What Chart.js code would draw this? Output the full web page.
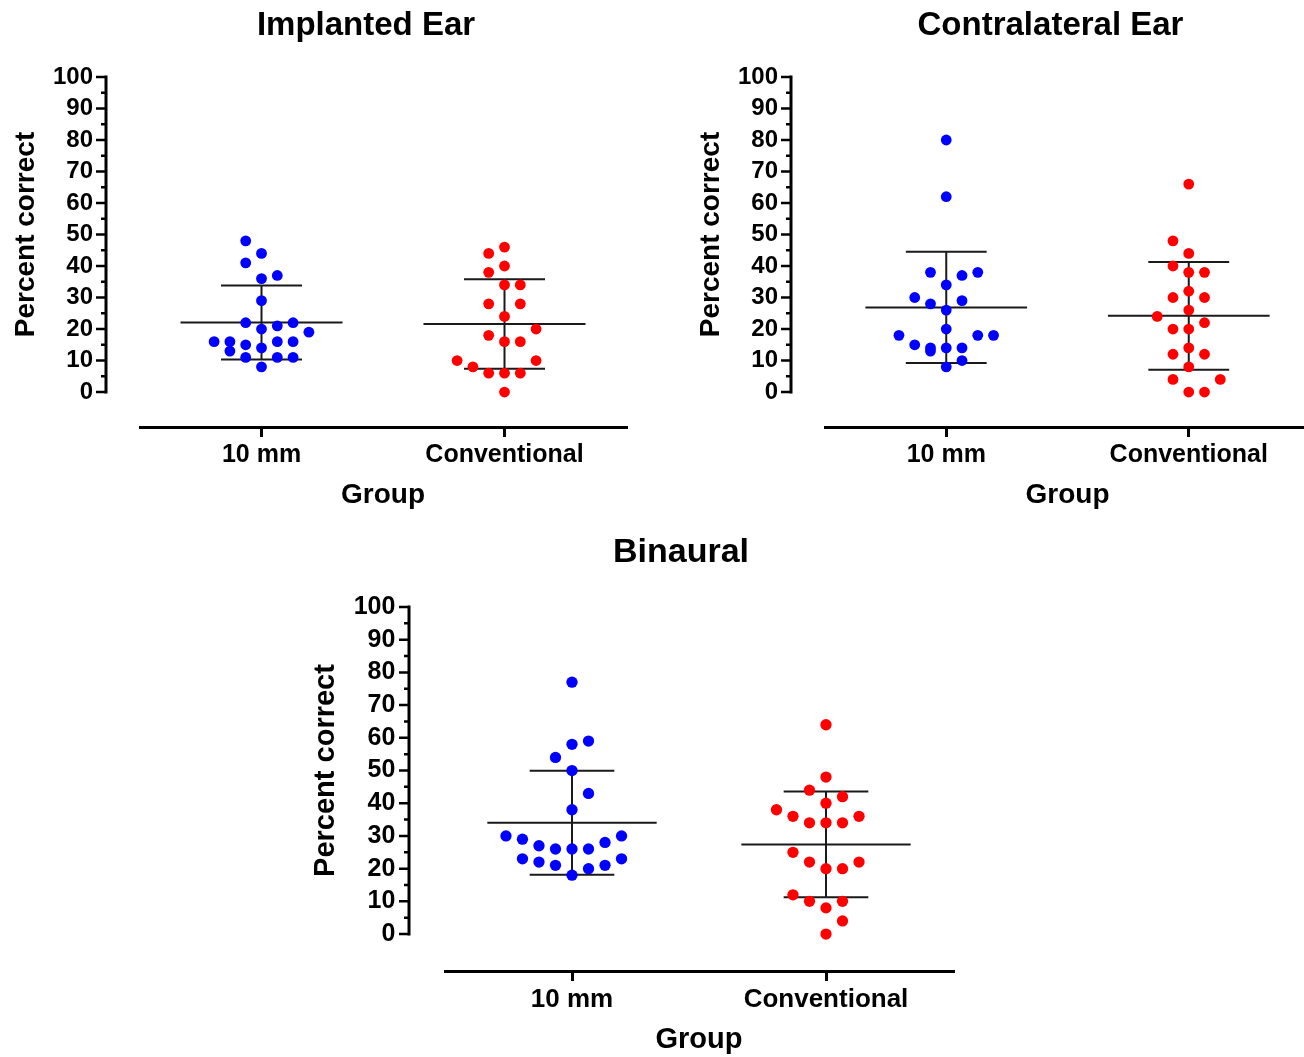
<!DOCTYPE html>
<html>
<head>
<meta charset="utf-8">
<title>Percent correct by group</title>
<script src="https://cdn.jsdelivr.net/npm/chart.js@4.4.1/dist/chart.umd.min.js"></script>
<style>
html, body { margin: 0; padding: 0; background: #fff; overflow: hidden; width: 1304px; height: 1057px; }
canvas { position: absolute; }
</style>
</head>
<body>
<canvas id="implanted"></canvas>
<canvas id="contralateral"></canvas>
<canvas id="binaural"></canvas>
<script>
const groups = ["10 mm", "Conventional"];
const yTicks = [0, 10, 20, 30, 40, 50, 60, 70, 80, 90, 100];

// percent correct per subject
const implanted10mm = [48, 44, 41, 37, 36, 29, 22, 22, 21, 20, 19, 16, 16, 16, 16, 15, 14, 13, 11, 11, 11, 8];
const implantedConv = [46, 44, 40, 38, 34, 34, 28, 28, 24, 20, 18, 16, 16, 10, 10, 8, 6, 6, 6, 0];
const contra10mm = [80, 62, 38, 38, 37, 34, 30, 29, 28, 26, 20, 18, 18, 18, 15, 14, 14, 14, 13, 10, 8];
const contraConv = [66, 48, 44, 40, 38, 38, 32, 30, 30, 26, 24, 22, 20, 20, 14, 12, 12, 8, 4, 4, 0, 0];
const binaural10mm = [77, 59, 58, 54, 50, 43, 38, 30, 30, 29, 28, 27, 26, 26, 26, 23, 23, 22, 21, 21, 20, 18];
const binauralConv = [64, 48, 44, 42, 40, 38, 36, 36, 34, 34, 34, 25, 22, 22, 20, 20, 12, 10, 10, 8, 4, 0];

const SLOT = 0.065;    // side step between dots in a row (group units)
const ROW_SPAN = 5.5;  // values within this of a row's first value share the row

Chart.defaults.font.family = "'Liberation Sans', Arial, sans-serif";
Chart.defaults.color = "#000";

// Prism-like dot spreading: dots in a row go 0, +1, -1, +2, -2 ... (side flips every row)
function swarm(values, center) {
    const sorted = [...values].sort((a, b) => a - b);
    const pts = [];
    let rowStart = null, row = -1, k = 0;
    sorted.forEach(v => {
        if (rowStart === null || v - rowStart > ROW_SPAN) {
            rowStart = v;
            row++;
            k = 0;
        }
        const dir = row % 2 === 0 ? 1 : -1;
        const slot = k === 0 ? 0 : (k % 2 === 1 ? 1 : -1) * Math.ceil(k / 2) * dir;
        pts.push({ x: center + slot * SLOT, y: v });
        k++;
    });
    return pts;
}

function meanSd(values) {
    const m = values.reduce((s, v) => s + v, 0) / values.length;
    const ss = values.reduce((s, v) => s + (v - m) * (v - m), 0);
    return [m, Math.sqrt(ss / (values.length - 1))];
}

// mean line + SD whisker with caps, segments split by null
function errorBars(values, c) {
    const [m, sd] = meanSd(values);
    return [
        { x: c - 1 / 3, y: m }, { x: c + 1 / 3, y: m }, { x: c, y: null },
        { x: c - 1 / 6, y: m + sd }, { x: c + 1 / 6, y: m + sd }, { x: c, y: null },
        { x: c, y: m + sd }, { x: c, y: m - sd }, { x: c, y: null },
        { x: c - 1 / 6, y: m - sd }, { x: c + 1 / 6, y: m - sd }
    ];
}

// detached y axis, y title and panel title
const prismAxis = {
    id: "prismAxis",
    afterDraw(chart, args, o) {
        const { ctx, chartArea: a, scales: { y } } = chart;
        const ax = a.left - o.gap;
        const lo = yTicks[0], hi = yTicks[yTicks.length - 1];
        ctx.save();
        ctx.strokeStyle = "#000";
        ctx.lineWidth = 3;
        ctx.beginPath();
        ctx.moveTo(ax, y.getPixelForValue(lo) + 1.5);
        ctx.lineTo(ax, y.getPixelForValue(hi) - 1.5);
        ctx.stroke();
        ctx.lineWidth = 2.5;
        ctx.beginPath();
        yTicks.forEach((v, i) => {
            const py = y.getPixelForValue(v);
            ctx.moveTo(ax, py);
            ctx.lineTo(ax - 10, py);
            if (i > 0) {
                const pm = y.getPixelForValue((v + yTicks[i - 1]) / 2);
                ctx.moveTo(ax, pm);
                ctx.lineTo(ax - 5, pm);
            }
        });
        ctx.stroke();

        ctx.fillStyle = "#000";
        ctx.textAlign = "center";
        ctx.textBaseline = "alphabetic";
        ctx.font = "bold " + o.yTitleSize + "px 'Liberation Sans', Arial, sans-serif";
        ctx.translate(ax - o.yTitleOffset, (y.getPixelForValue(lo) + y.getPixelForValue(hi)) / 2);
        ctx.rotate(-Math.PI / 2);
        ctx.fillText(o.yTitle, 0, 0);
        ctx.setTransform(1, 0, 0, 1, 0, 0);

        ctx.textBaseline = "middle";
        ctx.font = "bold " + o.titleSize + "px 'Liberation Sans', Arial, sans-serif";
        ctx.fillText(o.title, (ax + a.right) / 2, o.titleY);
        ctx.restore();
    }
};

function drawPanel(id, title, series, box, area, yMin, s) {
    const canvas = document.getElementById(id);
    canvas.width = box.w;
    canvas.height = box.h;
    canvas.style.left = box.x + "px";
    canvas.style.top = box.y + "px";

    const colors = ["#0000ff", "#ff0000"];
    const datasets = [];
    series.forEach((vals, i) => {
        datasets.push({
            data: swarm(vals, i + 1),
            backgroundColor: colors[i],
            borderWidth: 0,
            pointRadius: 5.4 * s,
            pointHoverRadius: 5.4 * s,
            pointBorderWidth: 0,
            order: 0
        });
        datasets.push({
            data: errorBars(vals, i + 1),
            showLine: true,
            spanGaps: false,
            borderColor: "#1a1a1a",
            borderWidth: 2,
            pointRadius: 0,
            pointHoverRadius: 0,
            order: 1
        });
    });

    new Chart(canvas, {
        type: "scatter",
        data: { datasets: datasets },
        options: {
            responsive: false,
            animation: false,
            events: [],
            layout: {
                padding: { left: 0, top: area.top - box.y, right: box.x + box.w - area.right, bottom: 0 }
            },
            plugins: {
                legend: { display: false },
                tooltip: { enabled: false },
                prismAxis: {
                    gap: area.gap,
                    title: title,
                    titleSize: Math.round(33 * s),
                    titleY: area.titleY - box.y,
                    yTitle: "Percent correct",
                    yTitleSize: Math.round(28 * s),
                    yTitleOffset: 72 * s
                }
            },
            scales: {
                x: {
                    type: "linear",
                    min: 0.5,
                    max: 2.5,
                    afterBuildTicks: sc => { sc.ticks = groups.map((g, i) => ({ value: i + 1 })); },
                    afterFit: sc => { sc.height = box.y + box.h - area.bottom; },
                    ticks: {
                        callback: v => groups[v - 1],
                        font: { size: Math.round(25 * s), weight: "bold" },
                        color: "#000",
                        padding: 3,
                        maxRotation: 0,
                        autoSkip: false
                    },
                    grid: {
                        drawOnChartArea: false,
                        drawTicks: true,
                        tickLength: 10,
                        tickWidth: 3,
                        tickColor: "#000",
                        lineWidth: 3,
                        color: "#000"
                    },
                    border: { display: true, width: 3, color: "#000" },
                    title: {
                        display: true,
                        text: "Group",
                        font: { size: Math.round(28 * s), weight: "bold" },
                        color: "#000",
                        padding: { top: 0, bottom: area.groupPad }
                    }
                },
                y: {
                    min: yMin,
                    max: yTicks[yTicks.length - 1],
                    afterBuildTicks: sc => { sc.ticks = yTicks.map(v => ({ value: v })); },
                    afterFit: sc => { sc.width = area.left - box.x; },
                    ticks: {
                        font: { size: Math.round(23.5 * s), weight: "bold" },
                        color: "#000",
                        padding: area.gap + 13 * s
                    },
                    grid: { display: false, drawTicks: false },
                    border: { display: false }
                }
            }
        },
        plugins: [prismAxis]
    });
}

drawPanel("implanted", "Implanted Ear", [implanted10mm, implantedConv],
    { x: 0, y: 0, w: 650, h: 520 },
    { left: 140, right: 626, top: 77, bottom: 427, gap: 34, titleY: 26, groupPad: 8 },
    -11.1, 1);

drawPanel("contralateral", "Contralateral Ear", [contra10mm, contraConv],
    { x: 660, y: 0, w: 660, h: 520 },
    { left: 825, right: 1310, top: 77, bottom: 427, gap: 34, titleY: 26, groupPad: 8 },
    -11.1, 1);

drawPanel("binaural", "Binaural", [binaural10mm, binauralConv],
    { x: 280, y: 530, w: 700, h: 527 },
    { left: 445, right: 953, top: 607, bottom: 971, gap: 36, titleY: 553, groupPad: 0 },
    -11.3, 1.045);
</script>
</body>
</html>
